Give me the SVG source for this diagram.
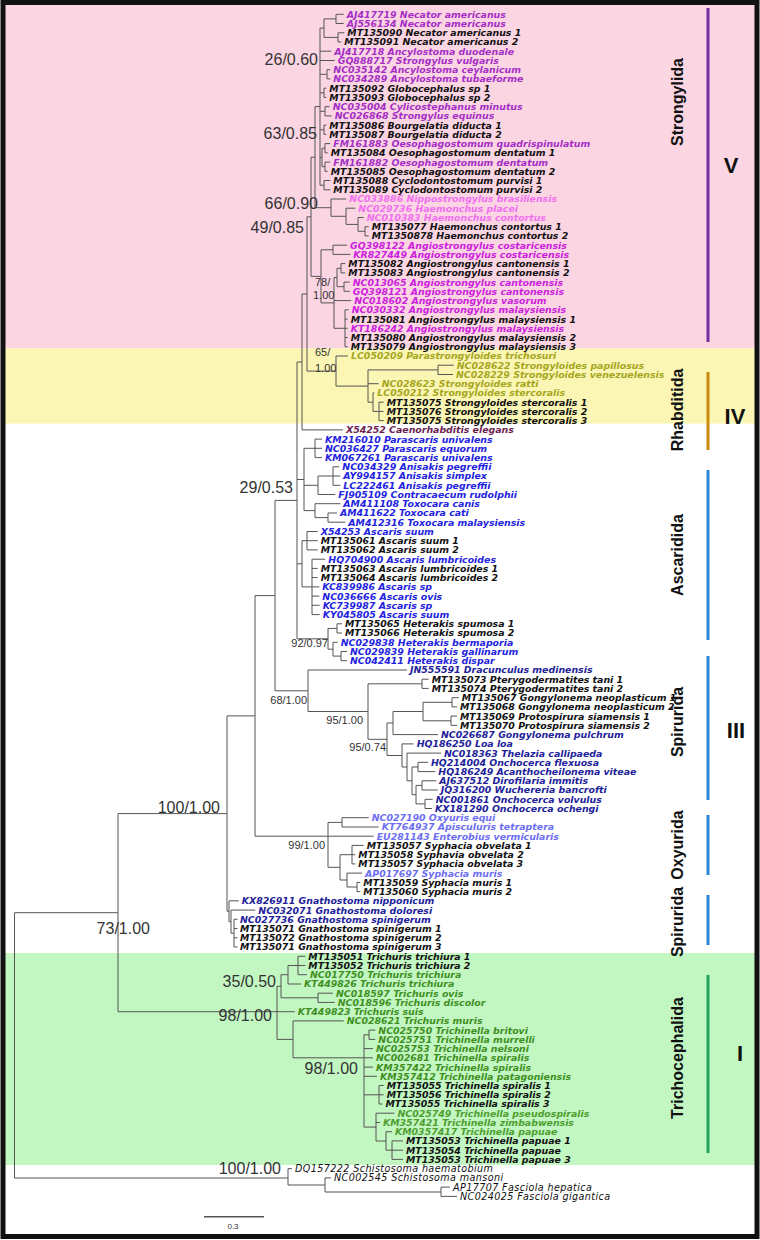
<svg xmlns="http://www.w3.org/2000/svg" width="760" height="1240" viewBox="0 0 760 1240">
<style>
.t{font-family:"DejaVu Sans",Verdana,sans-serif;font-size:9.4px;font-weight:bold;font-style:italic}
.o{font-family:"DejaVu Sans",Verdana,sans-serif;font-size:9.6px;font-style:italic;letter-spacing:0.4px;fill:#111}
.k{fill:#111}.p{fill:#a52fc6}.lp{fill:#f070f0}.m{fill:#cc22dd}.y{fill:#a6a61e}.mr{fill:#6e1f52}
.b{fill:#2323e0}.nv{fill:#22229a}.pw{fill:#6e6ef2}.g{fill:#3f8f1f}.gl{fill:#4e9e30}
.s{font-family:"Liberation Sans",Arial,sans-serif;font-size:16px;fill:#333;text-anchor:end}
.ss{font-family:"Liberation Sans",Arial,sans-serif;font-size:11px;fill:#333}
.cl{font-family:"Liberation Sans",Arial,sans-serif;font-size:16px;font-weight:bold;fill:#111;text-anchor:middle}
.rn{font-family:"Liberation Sans",Arial,sans-serif;font-size:22px;font-weight:bold;fill:#111;text-anchor:middle}
.br{stroke-width:3;fill:none}
</style>
<g id="background">
<rect x="4" y="4" width="752" height="344.3" fill="#fcd5e3"/>
<rect x="4" y="348.3" width="752" height="75.2" fill="#fbf6b4"/>
<rect x="4" y="953" width="752" height="212" fill="#c2f7c2"/>
<rect x="3" y="2.5" width="754" height="1234" fill="none" stroke="#111" stroke-width="5"/>
</g>
<g id="connectors" fill="none" stroke="#555" stroke-width="1">
<path d="M336 14.3V23.5M336 14.3H343.7M336 23.5H343.7M338 32.8V42M338 32.8H344.3M338 42H341.3M324 18.9V37.4M324 18.9H336M324 37.4H338
M327 69.7V78.9M327 69.7H330.3M327 78.9H330.3M324 88.2V97.4M324 88.2H326.3M324 97.4H326.3M325 106.7V115.9M325 106.7H329.7M325 115.9H331.7
M324 125.1V134.4M324 125.1H326.3M324 134.4H326.3M325 143.6V152.8M325 143.6H330.3M325 152.8H327.7M325 162.1V171.3M325 162.1H330.3M325 171.3H327.7
M322 148.2V166.7M322 148.2H325M322 166.7H325M324 180.5V189.8M324 180.5H330.3M324 189.8H330.3
M320 28.1V185.2M320 28.1H324M320 51.2H331.3M320 60.5H334.7M320 74.3H327M320 92.8H324M320 111.3H325M320 129.8H324M320 157.5H322M320 185.2H324
M365 226.7V235.9M365 226.7H368.7M365 235.9H368.7M358 217.5V231.3M358 217.5H363.7M358 231.3H365M346 208.2V224.4M346 208.2H355.3M346 224.4H358
M331 199V216.3M331 199H346.3M331 216.3H346M315 106.6V207.7M315 106.6H320M315 207.7H331
M333 245.2V254.4M333 245.2H347M333 254.4H350.3M341 263.6V272.9M341 263.6H345.3M341 272.9H345.3M344 282.1V291.3M344 282.1H349.7M344 291.3H349.7
M337 268.3V286.7M337 268.3H341M337 286.7H344M345 309.8V346.8M345 309.8H348.7M345 319.1H347.7M345 328.3H347.7M345 337.5H347.7M345 346.8H347.7
M334 277.5V328.3M334 277.5H337M334 300.6H351.3M334 328.3H345M321 249.8V302.9M321 249.8H333M321 302.9H334M311 157.2V276.4M311 157.2H315M311 276.4H321"/>
<path d="M438 365.2V374.5M438 365.2H453.7M438 374.5H453M379 402.2V420.6M379 402.2H383.7M379 411.4H383.7M379 420.6H383.7M373 392.9V411.4M373 392.9H374.3M373 411.4H379
M368 369.9V402.2M368 369.9H438M368 383.7H378.7M368 402.2H373M336 356V386.1M336 356H348M336 386.1H368M307 216.8V371.1M307 216.8H311M307 371.1H336
M302 294V429.9M302 294H307M302 429.9H343"/>
<path d="M315 439.1V457.6M315 439.1H322M315 448.3H322M315 457.6H322M333 466.8V485.3M333 466.8H339.3M333 476H340.3M333 485.3H340.3M318 476V494.5M318 476H333M318 494.5H335.3
M328 513V522.2M328 513H337M328 522.2H345.3M315 503.7V517.6M315 503.7H340.3M315 517.6H328M304 448.3V510.6M304 448.3H315M304 485.3H318M304 510.6H315
M307 531.5V549.9M307 531.5H317.7M307 540.7H317.7M307 549.9H317.7M312 559.2V614.6M312 559.2H325.3M312 568.4H317.7M312 577.6H317.7M312 586.9H319.3M312 596.1H319.3M312 605.3H319.7M312 614.6H319.7
M302 540.7V586.9M302 540.7H307M302 586.9H312M337 623.8V633M337 623.8H342M337 633H342M341 651.5V660.7M341 651.5H347M341 660.7H347M333 642.3V656.1M333 642.3H337.7M333 656.1H341
M328 628.4V649.2M328 628.4H337M328 649.2H333M297 362V638.8M297 362H302M297 479.5H304M297 563.8H302M297 638.8H328"/>
<path d="M422 679.2V688.4M422 679.2H428.7M422 688.4H428.7M452 697.7V706.9M452 697.7H458.7M452 706.9H457M451 716.1V725.4M451 716.1H457M451 725.4H457
M423 702.3V720.8M423 702.3H452M423 720.8H451M393 711.5V734.6M393 711.5H423M393 734.6H438M418 762.3V771.6M418 762.3H428M418 771.6H435.3
M422 780.8V790M422 780.8H436.3M422 790H437.7M425 799.3V808.5M425 799.3H432.7M425 808.5H432M416 785.4V803.9M416 785.4H422M416 803.9H425
M412 767V794.7M412 767H418M412 794.7H416M407 753.1V780.8M407 753.1H441M407 780.8H412M402 743.9V767M402 743.9H413.7M402 767H407
M387 723V755.5M387 723H393M387 755.5H402M368 683.8V739.3M368 683.8H422M368 739.3H387M308 670V711.5M308 670H407M308 711.5H368M275 500.4V690.8M275 500.4H297M275 690.8H308"/>
<path d="M342 817.7V827M342 817.7H368.7M342 827H378.7M352 845.4V863.9M352 845.4H363.7M352 854.7H355.3M352 863.9H355.3M357 882.4V891.6M357 882.4H360.3M357 891.6H360.3
M347 873.1V887M347 873.1H362M347 887H357M340 854.7V880M340 854.7H352M340 880H347M328 822.4V867.3M328 822.4H342M328 867.3H340M255 836.2H373.7M255 595.6V836.2M255 595.6H275"/>
<path d="M234 919.3V947M234 919.3H237.5M234 928.5H237.5M234 937.8H237.5M234 947H237.5M231 910.1V933.2M231 910.1H255.3M231 933.2H234M229 900.8V921.7M229 900.8H238.7M229 921.7H231
M227 715.9V911.2M227 715.9H255M227 911.2H229M118 813.6V1011.7M118 813.6H227M118 1011.7H294.7M14.5 912.7V1178M14.5 912.7H118M14.5 1178H288"/>
<path d="M298 956.3V974.7M298 956.3H305.3M298 965.5H305.3M298 974.7H307M288 965.5V984M288 965.5H298M288 984H301M318 993.2V1002.4M318 993.2H333M318 1002.4H334.7
M281 974.7V997.8M281 974.7H288M281 997.8H318M369 1030.1V1039.4M369 1030.1H375.3M369 1039.4H375.3M379 1085.5V1104M379 1085.5H383.7M379 1094.8H383.7M379 1104H382.4
M392 1140.9V1159.4M392 1140.9H403M392 1150.2H403M392 1159.4H403M386 1131.7V1150.2M386 1131.7H392M386 1150.2H392M376 1113.2V1141M376 1113.2H394.5M376 1122.5H380M376 1141H386
M364 1034.8V1127.1M364 1034.8H369M364 1048.6H373M364 1057.8H373M364 1067.1H373M364 1076.3H377M364 1094.8H379M364 1127.1H376
M293 1020.9V1057.8M293 1020.9H343.7M293 1057.8H364M277 986.3V1039.4M277 986.3H281M277 1039.4H293"/>
<path d="M288 1168.7V1185M288 1168.7H292M288 1185H325M325 1177.9V1192M325 1177.9H331M325 1192H441M441 1187.1V1196.4M441 1187.1H450M441 1196.4H457"/>
</g>
<g id="support">
<text class="s" x="318" y="65">26/0.60</text>
<text class="s" x="317" y="139">63/0.85</text>
<text class="s" x="318" y="209">66/0.90</text>
<text class="s" x="304" y="233">49/0.85</text>
<text class="ss" x="315" y="286">78/</text>
<text class="ss" x="313" y="299">1.00</text>
<text class="ss" x="315" y="356">65/</text>
<text class="ss" x="315" y="372">1.00</text>
<text class="s" x="293" y="493">29/0.53</text>
<text class="ss" x="328" y="647" text-anchor="end">92/0.97</text>
<text class="ss" x="307" y="704" text-anchor="end">68/1.00</text>
<text class="ss" x="363" y="724" text-anchor="end">95/1.00</text>
<text class="ss" x="386" y="751" text-anchor="end">95/0.74</text>
<text class="s" x="220" y="813">100/1.00</text>
<text class="ss" x="325" y="849" text-anchor="end">99/1.00</text>
<text class="s" x="150" y="934">73/1.00</text>
<text class="s" x="276" y="987">35/0.50</text>
<text class="s" x="272" y="1021">98/1.00</text>
<text class="s" x="358" y="1074">98/1.00</text>
<text class="s" x="281" y="1174">100/1.00</text>
</g>
<g id="taxa">
<g id="n1"><text class="t p" x="346.7" y="17.7">AJ417719 Necator americanus</text></g>
<g id="n2"><text class="t p" x="346.7" y="26.9">AJ556134 Necator americanus</text></g>
<g id="n3"><text class="t k" x="347.3" y="36.2">MT135090 Necator americanus 1</text></g>
<g id="n4"><text class="t k" x="344.3" y="45.4">MT135091 Necator americanus 2</text></g>
<g id="n5"><text class="t p" x="334.3" y="54.6">AJ417718 Ancylostoma duodenale</text></g>
<g id="n6"><text class="t p" x="337.7" y="63.9">GQ888717 Strongylus vulgaris</text></g>
<g id="n7"><text class="t p" x="333.3" y="73.1">NC035142 Ancylostoma ceylanicum</text></g>
<g id="n8"><text class="t p" x="333.3" y="82.3">NC034289 Ancylostoma tubaeforme</text></g>
<g id="n9"><text class="t k" x="329.3" y="91.6">MT135092 Globocephalus sp 1</text></g>
<g id="n10"><text class="t k" x="329.3" y="100.8">MT135093 Globocephalus sp 2</text></g>
<g id="n11"><text class="t p" x="332.7" y="110.1">NC035004 Cylicostephanus minutus</text></g>
<g id="n12"><text class="t p" x="334.7" y="119.3">NC026868 Strongylus equinus</text></g>
<g id="n13"><text class="t k" x="329.3" y="128.5">MT135086 Bourgelatia diducta 1</text></g>
<g id="n14"><text class="t k" x="329.3" y="137.8">MT135087 Bourgelatia diducta 2</text></g>
<g id="n15"><text class="t p" x="333.3" y="147">FM161883 Oesophagostomum quadrispinulatum</text></g>
<g id="n16"><text class="t k" x="330.7" y="156.2">MT135084 Oesophagostomum dentatum 1</text></g>
<g id="n17"><text class="t p" x="333.3" y="165.5">FM161882 Oesophagostomum dentatum</text></g>
<g id="n18"><text class="t k" x="330.7" y="174.7">MT135085 Oesophagostomum dentatum 2</text></g>
<g id="n19"><text class="t k" x="333.3" y="183.9">MT135088 Cyclodontostomum purvisi 1</text></g>
<g id="n20"><text class="t k" x="333.3" y="193.2">MT135089 Cyclodontostomum purvisi 2</text></g>
<g id="n21"><text class="t lp" x="349.3" y="202.4">NC033886 Nippostrongylus brasiliensis</text></g>
<g id="n22"><text class="t lp" x="358.3" y="211.6">NC029736 Haemonchus placei</text></g>
<g id="n23"><text class="t lp" x="366.7" y="220.9">NC010383 Haemonchus contortus</text></g>
<g id="n24"><text class="t k" x="371.7" y="230.1">MT135077 Haemonchus contortus 1</text></g>
<g id="n25"><text class="t k" x="371.7" y="239.3">MT1350878 Haemonchus contortus 2</text></g>
<g id="n26"><text class="t m" x="350" y="248.6">GQ398122 Angiostrongylus costaricensis</text></g>
<g id="n27"><text class="t m" x="353.3" y="257.8">KR827449 Angiostrongylus costaricensis</text></g>
<g id="n28"><text class="t k" x="348.3" y="267">MT135082 Angiostrongylus cantonensis 1</text></g>
<g id="n29"><text class="t k" x="348.3" y="276.3">MT135083 Angiostrongylus cantonensis 2</text></g>
<g id="n30"><text class="t m" x="352.7" y="285.5">NC013065 Angiostrongylus cantonensis</text></g>
<g id="n31"><text class="t m" x="352.7" y="294.7">GQ398121 Angiostrongylus cantonensis</text></g>
<g id="n32"><text class="t m" x="354.3" y="304">NC018602 Angiostrongylus vasorum</text></g>
<g id="n33"><text class="t m" x="351.7" y="313.2">NC030332 Angiostrongylus malaysiensis</text></g>
<g id="n34"><text class="t k" x="350.7" y="322.5">MT135081 Angiostrongylus malaysiensis 1</text></g>
<g id="n35"><text class="t m" x="350.7" y="331.7">KT186242 Angiostrongylus malaysiensis</text></g>
<g id="n36"><text class="t k" x="350.7" y="340.9">MT135080 Angiostrongylus malaysiensis 2</text></g>
<g id="n37"><text class="t k" x="350.7" y="350.2">MT135079 Angiostrongylus malaysiensis 3</text></g>
<g id="n38"><text class="t y" x="351" y="359.4">LC050209 Parastrongyloides trichosuri</text></g>
<g id="n39"><text class="t y" x="456.7" y="368.6">NC028622 Strongyloides papillosus</text></g>
<g id="n40"><text class="t y" x="456" y="377.9">NC028229 Strongyloides venezuelensis</text></g>
<g id="n41"><text class="t y" x="381.7" y="387.1">NC028623 Strongyloides ratti</text></g>
<g id="n42"><text class="t y" x="377.3" y="396.3">LC050212 Strongyloides stercoralis</text></g>
<g id="n43"><text class="t k" x="386.7" y="405.6">MT135075 Strongyloides stercoralis 1</text></g>
<g id="n44"><text class="t k" x="386.7" y="414.8">MT135076 Strongyloides stercoralis 2</text></g>
<g id="n45"><text class="t k" x="386.7" y="424">MT135075 Strongyloides stercoralis 3</text></g>
<g id="n46"><text class="t mr" x="346" y="433.3">X54252 Caenorhabditis elegans</text></g>
<g id="n47"><text class="t b" x="325" y="442.5">KM216010 Parascaris univalens</text></g>
<g id="n48"><text class="t b" x="325" y="451.7">NC036427 Parascaris equorum</text></g>
<g id="n49"><text class="t b" x="325" y="461">KM067261 Parascaris univalens</text></g>
<g id="n50"><text class="t b" x="342.3" y="470.2">NC034329 Anisakis pegreffii</text></g>
<g id="n51"><text class="t b" x="343.3" y="479.4">AY994157 Anisakis simplex</text></g>
<g id="n52"><text class="t b" x="343.3" y="488.7">LC222461 Anisakis pegreffii</text></g>
<g id="n53"><text class="t b" x="338.3" y="497.9">FJ905109 Contracaecum rudolphii</text></g>
<g id="n54"><text class="t b" x="343.3" y="507.1">AM411108 Toxocara canis</text></g>
<g id="n55"><text class="t b" x="340" y="516.4">AM411622 Toxocara cati</text></g>
<g id="n56"><text class="t b" x="348.3" y="525.6">AM412316 Toxocara malaysiensis</text></g>
<g id="n57"><text class="t b" x="320.7" y="534.9">X54253 Ascaris suum</text></g>
<g id="n58"><text class="t k" x="320.7" y="544.1">MT135061 Ascaris suum 1</text></g>
<g id="n59"><text class="t k" x="320.7" y="553.3">MT135062 Ascaris suum 2</text></g>
<g id="n60"><text class="t b" x="328.3" y="562.6">HQ704900 Ascaris lumbricoides</text></g>
<g id="n61"><text class="t k" x="320.7" y="571.8">MT135063 Ascaris lumbricoides 1</text></g>
<g id="n62"><text class="t k" x="320.7" y="581">MT135064 Ascaris lumbricoides 2</text></g>
<g id="n63"><text class="t b" x="322.3" y="590.3">KC839986 Ascaris sp</text></g>
<g id="n64"><text class="t b" x="322.3" y="599.5">NC036666 Ascaris ovis</text></g>
<g id="n65"><text class="t b" x="322.7" y="608.7">KC739987 Ascaris sp</text></g>
<g id="n66"><text class="t b" x="322.7" y="618">KY045805 Ascaris suum</text></g>
<g id="n67"><text class="t k" x="345" y="627.2">MT135065 Heterakis spumosa 1</text></g>
<g id="n68"><text class="t k" x="345" y="636.4">MT135066 Heterakis spumosa 2</text></g>
<g id="n69"><text class="t b" x="340.7" y="645.7">NC029838 Heterakis bermaporia</text></g>
<g id="n70"><text class="t b" x="350" y="654.9">NC029839 Heterakis gallinarum</text></g>
<g id="n71"><text class="t b" x="350" y="664.1">NC042411 Heterakis dispar</text></g>
<g id="n72"><text class="t nv" x="410" y="673.4">JN555591 Dracunculus medinensis</text></g>
<g id="n73"><text class="t k" x="431.7" y="682.6">MT135073 Pterygodermatites tani 1</text></g>
<g id="n74"><text class="t k" x="431.7" y="691.8">MT135074 Pterygodermatites tani 2</text></g>
<g id="n75"><text class="t k" x="461.7" y="701.1">MT135067 Gongylonema neoplasticum 1</text></g>
<g id="n76"><text class="t k" x="460" y="710.3">MT135068 Gongylonema neoplasticum 2</text></g>
<g id="n77"><text class="t k" x="460" y="719.5">MT135069 Protospirura siamensis 1</text></g>
<g id="n78"><text class="t k" x="460" y="728.8">MT135070 Protospirura siamensis 2</text></g>
<g id="n79"><text class="t nv" x="441" y="738">NC026687 Gongylonema pulchrum</text></g>
<g id="n80"><text class="t nv" x="416.7" y="747.3">HQ186250 Loa loa</text></g>
<g id="n81"><text class="t nv" x="444" y="756.5">NC018363 Thelazia callipaeda</text></g>
<g id="n82"><text class="t nv" x="431" y="765.7">HQ214004 Onchocerca flexuosa</text></g>
<g id="n83"><text class="t nv" x="438.3" y="775">HQ186249 Acanthocheilonema viteae</text></g>
<g id="n84"><text class="t nv" x="439.3" y="784.2">AJ637512 Dirofilaria immitis</text></g>
<g id="n85"><text class="t nv" x="440.7" y="793.4">JQ316200 Wuchereria bancrofti</text></g>
<g id="n86"><text class="t nv" x="435.7" y="802.7">NC001861 Onchocerca volvulus</text></g>
<g id="n87"><text class="t nv" x="435" y="811.9">KX181290 Onchocerca ochengi</text></g>
<g id="n88"><text class="t pw" x="371.7" y="821.1">NC027190 Oxyuris equi</text></g>
<g id="n89"><text class="t pw" x="381.7" y="830.4">KT764937 Apisculuris tetraptera</text></g>
<g id="n90"><text class="t pw" x="376.7" y="839.6">EU281143 Enterobius vermicularis</text></g>
<g id="n91"><text class="t k" x="366.7" y="848.8">MT135057 Syphacia obvelata 1</text></g>
<g id="n92"><text class="t k" x="358.3" y="858.1">MT135058 Syphavia obvelata 2</text></g>
<g id="n93"><text class="t k" x="358.3" y="867.3">MT135057 Syphacia obvelata 3</text></g>
<g id="n94"><text class="t pw" x="365" y="876.5">AP017697 Syphacia muris</text></g>
<g id="n95"><text class="t k" x="363.3" y="885.8">MT135059 Syphacia muris 1</text></g>
<g id="n96"><text class="t k" x="363.3" y="895">MT135060 Syphacia muris 2</text></g>
<g id="n97"><text class="t nv" x="241.7" y="904.2">KX826911 Gnathostoma nipponicum</text></g>
<g id="n98"><text class="t nv" x="258.3" y="913.5">NC032071 Gnathostoma doloresi</text></g>
<g id="n99"><text class="t nv" x="240" y="922.7">NC027736 Gnathostoma spinigerum</text></g>
<g id="n100"><text class="t k" x="240" y="931.9">MT135071 Gnathostoma spinigerum 1</text></g>
<g id="n101"><text class="t k" x="240" y="941.2">MT135072 Gnathostoma spinigerum 2</text></g>
<g id="n102"><text class="t k" x="240" y="950.4">MT135071 Gnathostoma spinigerum 3</text></g>
<g id="n103"><text class="t k" x="308.3" y="959.7">MT135051 Trichuris trichiura 1</text></g>
<g id="n104"><text class="t k" x="308.3" y="968.9">MT135052 Trichuris trichiura 2</text></g>
<g id="n105"><text class="t g" x="310" y="978.1">NC017750 Trichuris trichiura</text></g>
<g id="n106"><text class="t g" x="304" y="987.4">KT449826 Trichuris trichiura</text></g>
<g id="n107"><text class="t g" x="336" y="996.6">NC018597 Trichuris ovis</text></g>
<g id="n108"><text class="t g" x="337.7" y="1005.8">NC018596 Trichuris discolor</text></g>
<g id="n109"><text class="t g" x="297.7" y="1015.1">KT449823 Trichuris suis</text></g>
<g id="n110"><text class="t g" x="346.7" y="1024.3">NC028621 Trichuris muris</text></g>
<g id="n111"><text class="t g" x="378.3" y="1033.5">NC025750 Trichinella britovi</text></g>
<g id="n112"><text class="t g" x="378.3" y="1042.8">NC025751 Trichinella murrelli</text></g>
<g id="n113"><text class="t g" x="376" y="1052">NC025753 Trichinella nelsoni</text></g>
<g id="n114"><text class="t g" x="376" y="1061.2">NC002681 Trichinella spiralis</text></g>
<g id="n115"><text class="t g" x="376" y="1070.5">KM357422 Trichinella spiralis</text></g>
<g id="n116"><text class="t g" x="380" y="1079.7">KM357412 Trichinella patagoniensis</text></g>
<g id="n117"><text class="t k" x="386.7" y="1088.9">MT135055 Trichinella spiralis 1</text></g>
<g id="n118"><text class="t k" x="386.7" y="1098.2">MT135056 Trichinella spiralis 2</text></g>
<g id="n119"><text class="t k" x="385.4" y="1107.4">MT135055 Trichinella spiralis 3</text></g>
<g id="n120"><text class="t gl" x="397.5" y="1116.6">NC025749 Trichinella pseudospiralis</text></g>
<g id="n121"><text class="t gl" x="383" y="1125.9">KM357421 Trichinella zimbabwensis</text></g>
<g id="n122"><text class="t gl" x="395" y="1135.1">KM0357417 Trichinella papuae</text></g>
<g id="n123"><text class="t k" x="406" y="1144.3">MT135053 Trichinella papuae 1</text></g>
<g id="n124"><text class="t k" x="406" y="1153.6">MT135054 Trichinella papuae</text></g>
<g id="n125"><text class="t k" x="406" y="1162.8">MT135053 Trichinella papuae 3</text></g>
<g id="n126"><text class="o" x="295" y="1172.1">DQ157222 Schistosoma haematobium</text></g>
<g id="n127"><text class="o" x="334" y="1181.3">NC002545 Schistosoma mansoni</text></g>
<g id="n128"><text class="o" x="453" y="1190.5">AP17707 Fasciola hepatica</text></g>
<g id="n129"><text class="o" x="460" y="1199.8">NC024025 Fasciola gigantica</text></g>
</g>
<g id="clade-V">
<line class="br" x1="708" y1="8" x2="708" y2="342" stroke="#7030a0"/>
<text class="cl" transform="translate(683,102) rotate(-90)">Strongylida</text>
<text class="rn" x="731" y="173">V</text>
</g>
<g id="clade-IV">
<line class="br" x1="708" y1="372" x2="708" y2="450" stroke="#c98a0e"/>
<text class="cl" transform="translate(683,410) rotate(-90)">Rhabditida</text>
<text class="rn" x="735" y="424">IV</text>
</g>
<g id="clade-III">
<line class="br" x1="708" y1="470" x2="708" y2="640" stroke="#2e86d6"/>
<text class="cl" transform="translate(683,555) rotate(-90)">Ascaridida</text>
<line class="br" x1="708" y1="656" x2="708" y2="800" stroke="#2e86d6"/>
<text class="cl" transform="translate(683,722) rotate(-90)">Spirurida</text>
<line class="br" x1="708" y1="815" x2="708" y2="875" stroke="#2e86d6"/>
<text class="cl" transform="translate(683,845) rotate(-90)">Oxyurida</text>
<line class="br" x1="708" y1="895" x2="708" y2="945" stroke="#2e86d6"/>
<text class="cl" transform="translate(683,922) rotate(-90)">Spirurida</text>
<text class="rn" x="736" y="738">III</text>
</g>
<g id="clade-I">
<line class="br" x1="708" y1="975" x2="708" y2="1153" stroke="#23a45a"/>
<text class="cl" transform="translate(683,1058) rotate(-90)">Trichocephalida</text>
<text class="rn" x="740" y="1061">I</text>
</g>
<g id="scale">
<line x1="204" y1="1216.7" x2="264" y2="1216.7" stroke="#555" stroke-width="1.5"/>
<text x="233" y="1229" font-family="Liberation Sans,Arial,sans-serif" font-size="8" fill="#333" text-anchor="middle">0.3</text>
</g>
</svg>
